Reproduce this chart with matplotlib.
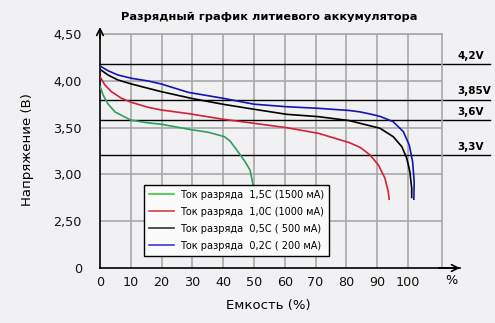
import matplotlib
matplotlib.use("Agg")
import matplotlib.pyplot as plt
from matplotlib.lines import Line2D

# ---- data ----
cap_green = [0, 1.0, 2.6, 4.9, 10, 14.6, 20, 25, 30.3, 35.2, 40.4, 42.2, 44.4, 47.1, 48.7, 49.6, 49.8]
v_green = [3.944, 3.848, 3.752, 3.667, 3.580, 3.555, 3.535, 3.505, 3.474, 3.450, 3.403, 3.357,
           3.261, 3.136, 3.047, 2.905, 2.78]

cap_red = [0, 1.6, 3.7, 7.0, 10.2, 15.6, 19.9, 28.6, 40, 50, 60.6, 70.9, 80.9, 84.4, 87.6,
           90.4, 92.5, 93.6, 93.9]
v_red = [4.044, 3.955, 3.884, 3.813, 3.770, 3.717, 3.688, 3.650, 3.589, 3.546, 3.499, 3.439,
         3.340, 3.290, 3.210, 3.100, 2.960, 2.815, 2.726]

cap_black = [0, 2.6, 5.8, 10.2, 15.6, 19.9, 30, 40, 50, 60.6, 70.9, 80.9, 84.4, 90.9, 95.2,
             98.0, 99.6, 100.6, 101.2, 101.2]
v_black = [4.123, 4.062, 4.009, 3.966, 3.920, 3.884, 3.810, 3.749, 3.696, 3.642, 3.617, 3.575,
           3.546, 3.493, 3.403, 3.296, 3.172, 3.029, 2.851, 2.745]

cap_blue = [0, 2.6, 5.8, 10.2, 15.6, 19.9, 28.6, 40, 50, 60.6, 70.9, 80.9, 84.4, 87.7, 90.9,
            95.2, 98.5, 100.4, 101.5, 102.0, 101.9]
v_blue = [4.158, 4.108, 4.062, 4.027, 3.998, 3.966, 3.877, 3.813, 3.750, 3.723, 3.706, 3.683,
          3.668, 3.645, 3.620, 3.563, 3.456, 3.314, 3.136, 2.922, 2.726]

series_labels = ["Ток разряда  1,5C (1500 мА)", "Ток разряда  1,0C (1000 мА)",
                 "Ток разряда  0,5C ( 500 мА)", "Ток разряда  0,2C ( 200 мА)"]

ref_levels = [4.18, 3.80, 3.576, 3.207]
ref_labels = ["4,2V", "3,85V", "3,6V", "3,3V"]

y_ticks = [2.0, 2.5, 3.0, 3.5, 4.0, 4.5]
y_ticklabels = ["0", "2,50", "3,00", "3,50", "4,00", "4,50"]
x_ticks = [0, 10, 20, 30, 40, 50, 60, 70, 80, 90, 100]
x_ticklabels = [str(t) for t in x_ticks]

title = "Разрядный график литиевого аккумулятора"
ylabel = "Напряжение (В)"
xlabel = "Емкость (%)"

# ---- styling ----
W, H = 495, 323
bg = "#f1f1f3"
curve_colors = ["#2f9e60", "#d42038", "#000000", "#1414b4"]
legend_colors = ["#33cc33", "#d84040", "#333333", "#3c3cd8"]

fig = plt.figure(figsize=(W / 100, H / 100), dpi=100, facecolor=bg)
L, R, T, B = 100, 442, 34, 268
ax = fig.add_axes([L / W, 1 - B / H, (R - L) / W, (B - T) / H])
ax.set_facecolor(bg)
xmax = (R - L) / 3.08
ax.set_xlim(0, xmax)
ax.set_ylim(2.0, 4.5)

# grid
for xv in x_ticks[1:]:
    ax.axvline(xv, color="#a8a8a8", lw=1.2, zorder=1)
for yv in y_ticks[1:]:
    ax.axhline(yv, color="#a8a8a8", lw=1.2, zorder=1)

for s in ["top", "right"]:
    ax.spines[s].set_color("#a8a8a8")
    ax.spines[s].set_linewidth(1.2)
for s in ["left", "bottom"]:
    ax.spines[s].set_color("black")
    ax.spines[s].set_linewidth(1.2)

# reference lines
x_end = (490 - L) / 3.08
x_lab = (457 - L) / 3.08
for lev, lab in zip(ref_levels, ref_labels):
    ax.plot([0, x_end], [lev, lev], color="black", lw=1.0, clip_on=False, zorder=2)
    ax.annotate(lab, xy=(x_lab, lev), xytext=(0, 6), textcoords="offset points",
                ha="left", va="center", fontsize=7.5, fontweight="bold",
                annotation_clip=False)

# curves
for cx, cy, col in zip([cap_green, cap_red, cap_black, cap_blue],
                       [v_green, v_red, v_black, v_blue], curve_colors):
    ax.plot(cx, cy, color=col, lw=1.2, zorder=3, solid_capstyle="butt",
            solid_joinstyle="round")

ax.set_xticks(x_ticks)
ax.set_xticklabels(x_ticklabels)
ax.set_yticks(y_ticks)
ax.set_yticklabels(y_ticklabels)
ax.tick_params(axis="both", length=0, labelsize=9.2, colors="#111111")
ax.tick_params(axis="y", pad=13)
ax.tick_params(axis="x", pad=6)

# arrows
ax.annotate("", xy=(0, 1.03), xytext=(0, 0.98), xycoords="axes fraction",
            arrowprops=dict(arrowstyle="->", color="black", lw=1.2,
                            mutation_scale=12, shrinkA=0, shrinkB=0))
ax.annotate("", xy=((460 - L) / (R - L), 0), xytext=(0.99, 0), xycoords="axes fraction",
            arrowprops=dict(arrowstyle="->", color="black", lw=1.2,
                            mutation_scale=12, shrinkA=0, shrinkB=0))
ax.plot([xmax, (460 - L) / 3.08], [2.0, 2.0], color="black", lw=1.2, clip_on=False)
fig.text(451 / W, 1 - 281 / H, "%", ha="center", va="center", fontsize=9.2)

# legend
handles = [Line2D([], [], color=c, lw=1.2) for c in legend_colors]
leg = ax.legend(handles, series_labels, loc="upper left",
                bbox_to_anchor=((144 - L) / (R - L), (B - 185) / (B - T)),
                borderaxespad=0, fontsize=7, frameon=True, fancybox=False,
                framealpha=1, facecolor="#fbfbfb", edgecolor="black",
                handlelength=2.6, handletextpad=0.6, labelspacing=0.72,
                borderpad=0.5)
leg.get_frame().set_linewidth(1.0)
leg.set_zorder(5)

fig.text(269 / W, 1 - 17 / H, title, ha="center", va="center",
         fontsize=8.2, fontweight="bold")
fig.text(28 / W, 1 - 150 / H, ylabel, ha="center", va="center",
         rotation=90, fontsize=9.5)
fig.text(268 / W, 1 - 306 / H, xlabel, ha="center", va="center", fontsize=9.5)

fig.savefig("out.png", dpi=100, facecolor=bg)
